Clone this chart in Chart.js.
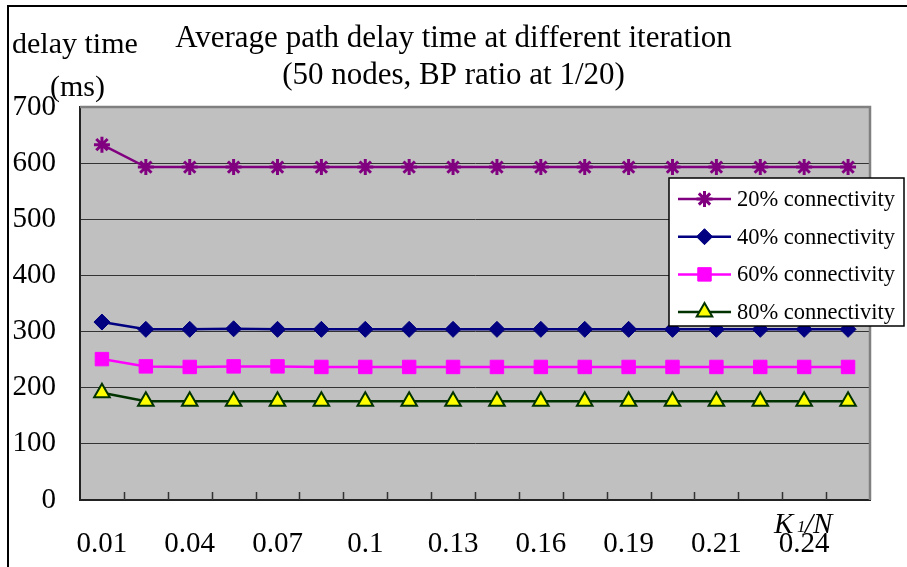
<!DOCTYPE html>
<html>
<head>
<meta charset="utf-8">
<script src="https://cdn.jsdelivr.net/npm/chart.js@4.4.1/dist/chart.umd.min.js"></script>
<style>
  html, body { margin: 0; padding: 0; background: #fff; overflow: hidden; }
  canvas { display: block; }
</style>
</head>
<body>
<canvas id="c" width="907" height="567"></canvas>
<script>
// K1/N categories (every other one is labelled on the axis)
const tickLabels = ['0.01', '', '0.04', '', '0.07', '', '0.1', '', '0.13', '', '0.16', '', '0.19', '', '0.21', '', '0.24', ''];

// Average path delay (ms) per connectivity level
const conn20 = [633, 593, 593, 593, 593, 593, 593, 593, 593, 593, 593, 593, 593, 593, 593, 593, 593, 593];
const conn40 = [317, 304, 304, 305, 304, 304, 304, 304, 304, 304, 304, 304, 304, 304, 304, 304, 304, 304];
const conn60 = [251, 238, 237, 238, 238, 237, 237, 237, 237, 237, 237, 237, 237, 237, 237, 237, 237, 237];
const conn80 = [191, 176, 176, 176, 176, 176, 176, 176, 176, 176, 176, 176, 176, 176, 176, 176, 176, 176];

const seriesNames = ['20% connectivity', '40% connectivity', '60% connectivity', '80% connectivity'];
const titleLines = ['Average path delay time at different iteration', '(50 nodes, BP ratio at 1/20)'];
const yTicks = [0, 100, 200, 300, 400, 500, 600, 700];

const SERIF = '"Liberation Serif", "Times New Roman", serif';

// Frame, plot background, tick marks, legend and free-standing axis captions
const decor = {
  id: 'decor',
  beforeDraw(chart) {
    const { ctx, chartArea: a } = chart;
    ctx.save();
    ctx.fillStyle = '#fff';
    ctx.fillRect(0, 0, chart.width, chart.height);
    ctx.fillStyle = '#c0c0c0';
    ctx.fillRect(a.left, a.top, a.right - a.left, a.bottom - a.top);
    // outer frame (top and left)
    ctx.strokeStyle = '#000';
    ctx.lineWidth = 2;
    ctx.beginPath();
    ctx.moveTo(chart.width, 6);
    ctx.lineTo(8, 6);
    ctx.lineTo(8, chart.height);
    ctx.stroke();
    ctx.restore();
  },
  beforeDatasetsDraw(chart) {
    const { ctx, chartArea: a } = chart;
    const n = chart.data.labels.length;
    const step = (a.right - a.left) / n;
    ctx.save();
    ctx.strokeStyle = '#333';
    ctx.lineWidth = 1.5;
    ctx.beginPath();
    for (let i = 1; i < n; i++) {
      const x = Math.round(a.left + i * step) + 0.5;
      ctx.moveTo(x, a.bottom);
      ctx.lineTo(x, a.bottom - 8);
    }
    ctx.stroke();
    ctx.restore();
  },
  afterDraw(chart) {
    const { ctx, chartArea: a } = chart;
    ctx.save();
    // plot area border, top and right
    ctx.strokeStyle = '#808080';
    ctx.lineWidth = 2.5;
    ctx.beginPath();
    ctx.moveTo(a.left, a.top);
    ctx.lineTo(a.right, a.top);
    ctx.lineTo(a.right, a.bottom);
    ctx.stroke();

    // legend box
    const lx = 669, ly = 178, lw = 235, lh = 148;
    ctx.fillStyle = '#fff';
    ctx.fillRect(lx, ly, lw, lh);
    ctx.strokeStyle = '#000';
    ctx.lineWidth = 1.5;
    ctx.strokeRect(lx, ly, lw, lh);

    chart.data.datasets.forEach((ds, i) => {
      const y = ly + 21 + i * 37.7;
      ctx.strokeStyle = ds.borderColor;
      ctx.lineWidth = ds.borderWidth;
      ctx.beginPath();
      ctx.moveTo(lx + 9, y);
      ctx.lineTo(lx + 62, y);
      ctx.stroke();
      ctx.fillStyle = ds.pointBackgroundColor;
      ctx.strokeStyle = ds.pointBorderColor;
      ctx.lineWidth = ds.pointBorderWidth;
      Chart.helpers.drawPoint(ctx, {
        pointStyle: ds.pointStyle,
        radius: ds.pointRadius,
        borderWidth: ds.pointBorderWidth,
        rotation: 0
      }, lx + 35.5, y);
      ctx.fillStyle = '#000';
      ctx.font = '22.5px ' + SERIF;
      ctx.textBaseline = 'middle';
      ctx.textAlign = 'left';
      ctx.fillText(ds.label, lx + 68, y + 1);
    });

    // axis captions
    ctx.fillStyle = '#000';
    ctx.textAlign = 'left';
    ctx.textBaseline = 'alphabetic';
    ctx.font = '30px ' + SERIF;
    ctx.fillText('delay time', 12, 53);
    ctx.fillText('(ms)', 50, 96);
    ctx.font = 'italic 29px ' + SERIF;
    ctx.fillText('K', 774, 533);
    ctx.font = 'italic 17px ' + SERIF;
    ctx.fillText('1', 797, 532);
    ctx.font = 'italic 29px ' + SERIF;
    ctx.fillText('/N', 805, 533);
    ctx.restore();
  }
};

new Chart(document.getElementById('c'), {
  type: 'line',
  data: {
    labels: tickLabels,
    datasets: [
      {
        label: seriesNames[0], data: conn20,
        borderColor: '#800080', borderWidth: 2.5,
        pointStyle: 'star', pointRadius: 8, pointBorderWidth: 3,
        pointBorderColor: '#800080', pointBackgroundColor: '#800080'
      },
      {
        label: seriesNames[1], data: conn40,
        borderColor: '#000080', borderWidth: 2.5,
        pointStyle: 'rectRot', pointRadius: 8, pointBorderWidth: 1,
        pointBorderColor: '#000080', pointBackgroundColor: '#000080'
      },
      {
        label: seriesNames[2], data: conn60,
        borderColor: '#ff00ff', borderWidth: 2.5,
        pointStyle: 'rect', pointRadius: 9.5, pointBorderWidth: 1,
        pointBorderColor: '#ff00ff', pointBackgroundColor: '#ff00ff'
      },
      {
        label: seriesNames[3], data: conn80,
        borderColor: '#003300', borderWidth: 2.5,
        pointStyle: 'triangle', pointRadius: 9, pointBorderWidth: 2,
        pointBorderColor: '#003300', pointBackgroundColor: '#ffff00'
      }
    ]
  },
  options: {
    responsive: false,
    animation: false,
    events: [],
    layout: { padding: 0 },
    plugins: {
      legend: { display: false },
      tooltip: { enabled: false },
      title: {
        display: true,
        text: titleLines,
        color: '#000',
        font: { family: SERIF, size: 31, weight: 'normal', lineHeight: 1.17 },
        padding: { top: 21, bottom: 13.5 }
      }
    },
    scales: {
      x: {
        type: 'category',
        offset: true,
        grid: { display: true, color: 'rgba(0,0,0,0)', drawTicks: false },
        border: { display: true, color: '#222', width: 2 },
        ticks: {
          autoSkip: false, maxRotation: 0, minRotation: 0, padding: 27,
          color: '#000', font: { family: SERIF, size: 29 }
        },
        afterFit(s) { s.height = 67; }
      },
      y: {
        min: 0, max: 700,
        afterBuildTicks(s) { s.ticks = yTicks.map(v => ({ value: v })); },
        grid: { color: '#333', lineWidth: 1, drawTicks: false },
        border: { display: true, color: '#222', width: 2 },
        ticks: { padding: 24, color: '#000', font: { family: SERIF, size: 29 } },
        afterFit(s) { s.width = 80; }
      },
      // empty right-hand gutter beside the plot area
      gutter: {
        type: 'linear',
        position: 'right',
        display: true,
        grid: { display: false, drawTicks: false },
        border: { display: false },
        ticks: { display: false },
        afterFit(s) { s.width = 37; }
      }
    }
  },
  plugins: [decor]
});
</script>
</body>
</html>
